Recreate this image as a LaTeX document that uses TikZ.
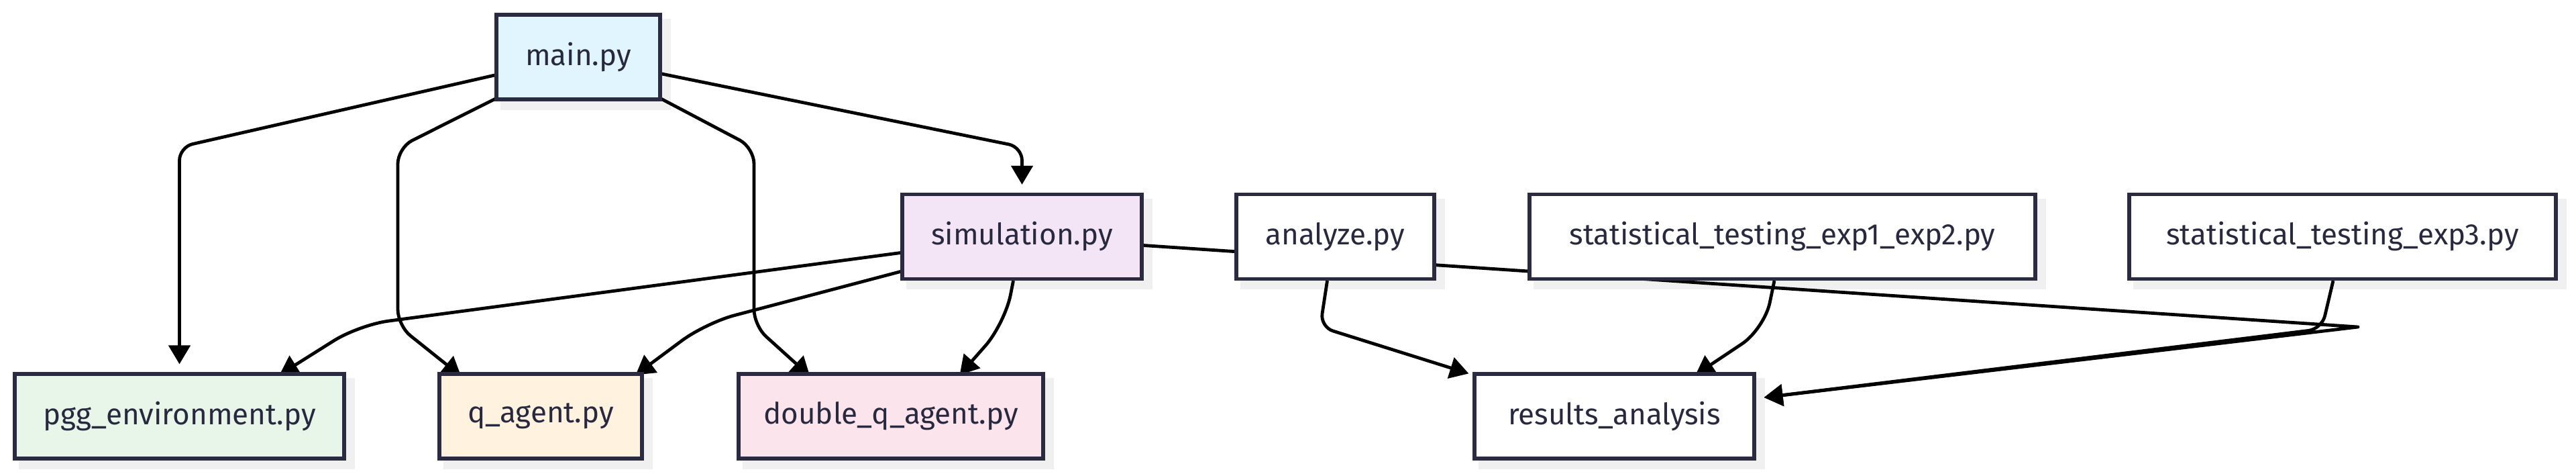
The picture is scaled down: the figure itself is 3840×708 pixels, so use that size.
\documentclass[tikz,border=0pt]{standalone}
\usepackage{fontspec}
\setmainfont{Fira Sans}
\usetikzlibrary{arrows.meta,calc}
\pgfdeclarelayer{bg}
\pgfsetlayers{bg,main}
\definecolor{bord}{HTML}{2A2A40}
\definecolor{txt}{HTML}{28283F}
\definecolor{shadowc}{HTML}{F0F0F0}
\definecolor{cmain}{HTML}{E1F5FE}
\definecolor{csim}{HTML}{F3E5F5}
\definecolor{cpgg}{HTML}{E8F5E9}
\definecolor{cq}{HTML}{FFF3E0}
\definecolor{cdq}{HTML}{FCE4EC}
\begin{document}
\begin{tikzpicture}[x=0.5pt,y=-0.5pt,
  box/.style={draw=bord,line width=2.6pt,fill=white,minimum height=63pt,inner sep=0pt,
    text=txt,font=\fontsize{22pt}{26pt}\selectfont,anchor=center},
  edge/.style={draw=black,line width=2.4pt,-{Triangle[length=14pt,width=16pt]},line join=round}]
\useasboundingbox (0,0) rectangle (3840,708);
% nodes
\node[box,fill=cmain,minimum width=122pt] (main) at (862,85) {main.py};
\node[box,fill=csim,minimum width=178.5pt] (sim) at (1523.5,352.5) {simulation.py};
\node[box,minimum width=147.5pt] (an) at (1990.5,352.5) {analyze.py};
\node[box,minimum width=377pt] (s12) at (2657,352.5) {statistical\_testing\_exp1\_exp2.py};
\node[box,minimum width=318pt] (s3) at (3492,352.5) {statistical\_testing\_exp3.py};
\node[box,fill=cpgg,minimum width=245.5pt] (pgg) at (267.5,620) {pgg\_environment.py};
\node[box,fill=cq,minimum width=151pt] (q) at (806,620) {q\_agent.py};
\node[box,fill=cdq,minimum width=227pt] (dq) at (1328,620) {double\_q\_agent.py};
\node[box,minimum width=208.5pt] (res) at (2406.5,620) {results\_analysis};
\begin{pgfonlayer}{bg}
\foreach \n in {main,sim,an,s12,s3,pgg,q,dq,res}{
  \fill[shadowc] ($(\n.north west)+(9,9)$) rectangle ($(\n.south east)+(13,13)$);}
% main edges
\draw[edge,rounded corners=10pt] ($(main.west)+(0,27)$) -- (267.5,219) -- ($(pgg.north)+(0,-12)$);
\draw[edge,rounded corners=12pt] ($(main.south west)+(2,-4)$) -- (593,220) -- (593,485) -- ($(q.north west)+(35,6)$);
\draw[edge,rounded corners=12pt] ($(main.south east)+(-2,-4)$) -- (1124,220) -- (1124,485) -- ($(dq.north west)+(109,6)$);
\draw[edge,rounded corners=10pt] ($(main.east)+(0,25)$) -- (1523.5,219) -- ($(sim.north)+(0,-12)$);
% simulation edges
\draw[edge,rounded corners=22pt] ($(sim.west)+(0,24)$) -- (535,484) -- ($(pgg.north east)+(-99,4)$);
\draw[edge,rounded corners=22pt] ($(sim.west)+(0,52)$) -- (1052,481) -- ($(q.north east)+(-12,4)$);
\draw[edge,rounded corners=22pt] ($(sim.south)+(-13,0)$) -- (1498,482) -- ($(dq.north east)+(-127,4)$);
\draw[edge] ($(sim.east)+(0,13)$) -- (3515,487) -- ($(res.east)+(12,-28)$);
% analysis edges
\draw[edge,rounded corners=10pt] ($(an.south)+(-12,0)$) -- (1968,487) -- ($(res.north west)+(-6,2)$);
\draw[edge,rounded corners=20pt] ($(s12.south)+(-12,0)$) -- (2630,490) -- ($(res.north west)+(332,4)$);
\draw[edge,rounded corners=10pt] ($(s3.south)+(-14,0)$) -- (3461,490) -- ($(res.east)+(12,-28)$);
\end{pgfonlayer}
\end{tikzpicture}
\end{document}
